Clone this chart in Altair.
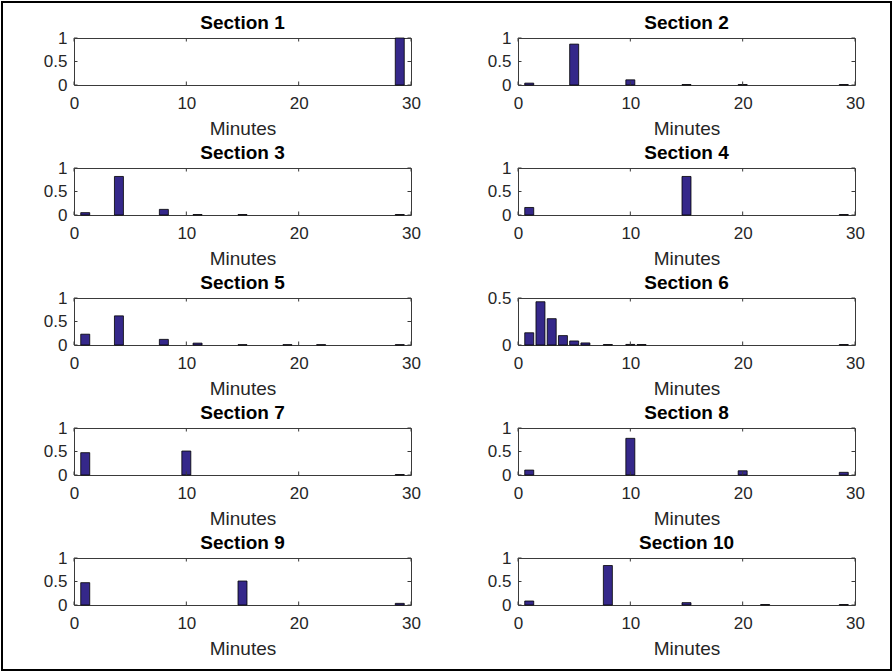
import altair as alt
import pandas as pd

# ---- data ----
titles = ["Section %d" % i for i in range(1, 11)]

s1_min = [29]
s1_val = [1.0]
s2_min = [1, 5, 10, 15, 20, 29]
s2_val = [0.04, 0.87, 0.11, 0.01, 0.01, 0.01]
s3_min = [1, 4, 8, 11, 15, 29]
s3_val = [0.05, 0.82, 0.12, 0.01, 0.01, 0.01]
s4_min = [1, 15, 29]
s4_val = [0.16, 0.82, 0.01]
s5_min = [1, 4, 8, 11, 15, 19, 22, 29]
s5_val = [0.23, 0.62, 0.12, 0.04, 0.007, 0.007, 0.007, 0.007]
s6_min = [1, 2, 3, 4, 5, 6, 8, 10, 11, 29]
s6_val = [0.13, 0.46, 0.28, 0.10, 0.043, 0.022, 0.005, 0.006, 0.005, 0.005]
s7_min = [1, 10, 29]
s7_val = [0.475, 0.51, 0.01]
s8_min = [1, 10, 20, 29]
s8_val = [0.105, 0.78, 0.09, 0.057]
s9_min = [1, 15, 29]
s9_val = [0.475, 0.51, 0.035]
s10_min = [1, 8, 15, 22, 29]
s10_val = [0.085, 0.84, 0.05, 0.01, 0.01]

section_minutes = [s1_min, s2_min, s3_min, s4_min, s5_min,
                   s6_min, s7_min, s8_min, s9_min, s10_min]
section_values = [s1_val, s2_val, s3_val, s4_val, s5_val,
                  s6_val, s7_val, s8_val, s9_val, s10_val]
y_max = [1, 1, 1, 1, 1, 0.5, 1, 1, 1, 1]

x_ticks = [0, 10, 20, 30]
y_ticks_full = [0, 0.5, 1]
y_ticks_half = [0, 0.5]

# ---- style ----
W, H = 337, 47
FONT = "Liberation Sans"
BAR = "#35288a"
BOX = "#3a3a3a"
TICK = 3.5


def panel(i):
    df = pd.DataFrame({"minute": section_minutes[i], "value": section_values[i]})
    ymax = y_max[i]
    yt = y_ticks_half if ymax == 0.5 else y_ticks_full
    xscale = alt.Scale(domain=[0, 30], nice=False, zero=False)
    yscale = alt.Scale(domain=[0, ymax], nice=False)
    xaxis = alt.Axis(values=x_ticks, format="d", title="Minutes",
                     ticks=False, tickSize=0, domain=False, grid=False,
                     labelFontSize=17, labelFont=FONT, labelColor="#262626",
                     labelPadding=10, labelFlush=False, labelOverlap=False,
                     titleFontSize=19, titleFont=FONT,
                     titleFontWeight="normal", titleColor="#262626",
                     titlePadding=8)
    yaxis = alt.Axis(values=yt, format="~g", title=None, tickCount=len(yt),
                     ticks=False, tickSize=0, domain=False, grid=False,
                     labelFontSize=17, labelFont=FONT, labelColor="#262626",
                     labelPadding=7, labelFlush=False, labelOverlap=False)

    bars = alt.Chart(df).transform_calculate(
        x0="datum.minute - 0.4", x1="datum.minute + 0.4"
    ).mark_bar(color=BAR, stroke="#000000", strokeWidth=0.8).encode(
        x=alt.X("x0:Q", scale=xscale, axis=xaxis, title="Minutes"),
        x2="x1:Q",
        y=alt.Y("value:Q", scale=yscale, axis=yaxis),
        y2=alt.datum(0),
    )

    xt = pd.DataFrame({"t": x_ticks})
    yt_df = pd.DataFrame({"t": yt})
    xb = alt.Chart(xt).mark_rule(color=BOX, strokeWidth=1).encode(
        x=alt.X("t:Q", scale=xscale, axis=xaxis, title="Minutes"),
        y=alt.value(H), y2=alt.value(H - TICK))
    xtop = alt.Chart(xt).mark_rule(color=BOX, strokeWidth=1).encode(
        x=alt.X("t:Q", scale=xscale, axis=xaxis, title="Minutes"),
        y=alt.value(0), y2=alt.value(TICK))
    yl = alt.Chart(yt_df).mark_rule(color=BOX, strokeWidth=1).encode(
        y=alt.Y("t:Q", scale=yscale, axis=yaxis),
        x=alt.value(0), x2=alt.value(TICK))
    yr = alt.Chart(yt_df).mark_rule(color=BOX, strokeWidth=1).encode(
        y=alt.Y("t:Q", scale=yscale, axis=yaxis),
        x=alt.value(W), x2=alt.value(W - TICK))

    return alt.layer(bars, xb, xtop, yl, yr).properties(
        width=W, height=H,
        title=alt.TitleParams(titles[i], fontSize=19, font=FONT, fontWeight="bold",
                              color="#000000", offset=-4, anchor="middle"),
    )


panels = [panel(i) for i in range(10)]
grid = alt.concat(*panels, columns=2,
                  spacing={"row": 83, "column": 107}, bounds="flush")

# outer picture frame of the reference image (a 1x1 view holding only the frame)
frame = alt.Chart(pd.DataFrame({"f": [0]})).mark_rect(
    fill="#ffffff", fillOpacity=0, stroke="#000000", strokeWidth=2
).encode(x=alt.value(-72), x2=alt.value(817), y=alt.value(0), y2=alt.value(668)
).properties(width=1, height=1, view=alt.ViewBackground(stroke="transparent"))

chart = alt.vconcat(frame, grid, spacing=35, bounds="flush").properties(
    autosize=alt.AutoSizeParams(type="pad"),
    padding={"left": 0, "top": 0, "right": 0, "bottom": 0},
    background="white",
).configure_view(stroke=BOX, strokeWidth=1)

chart.save("out.html", embed_options={"renderer": "svg", "actions": False})
